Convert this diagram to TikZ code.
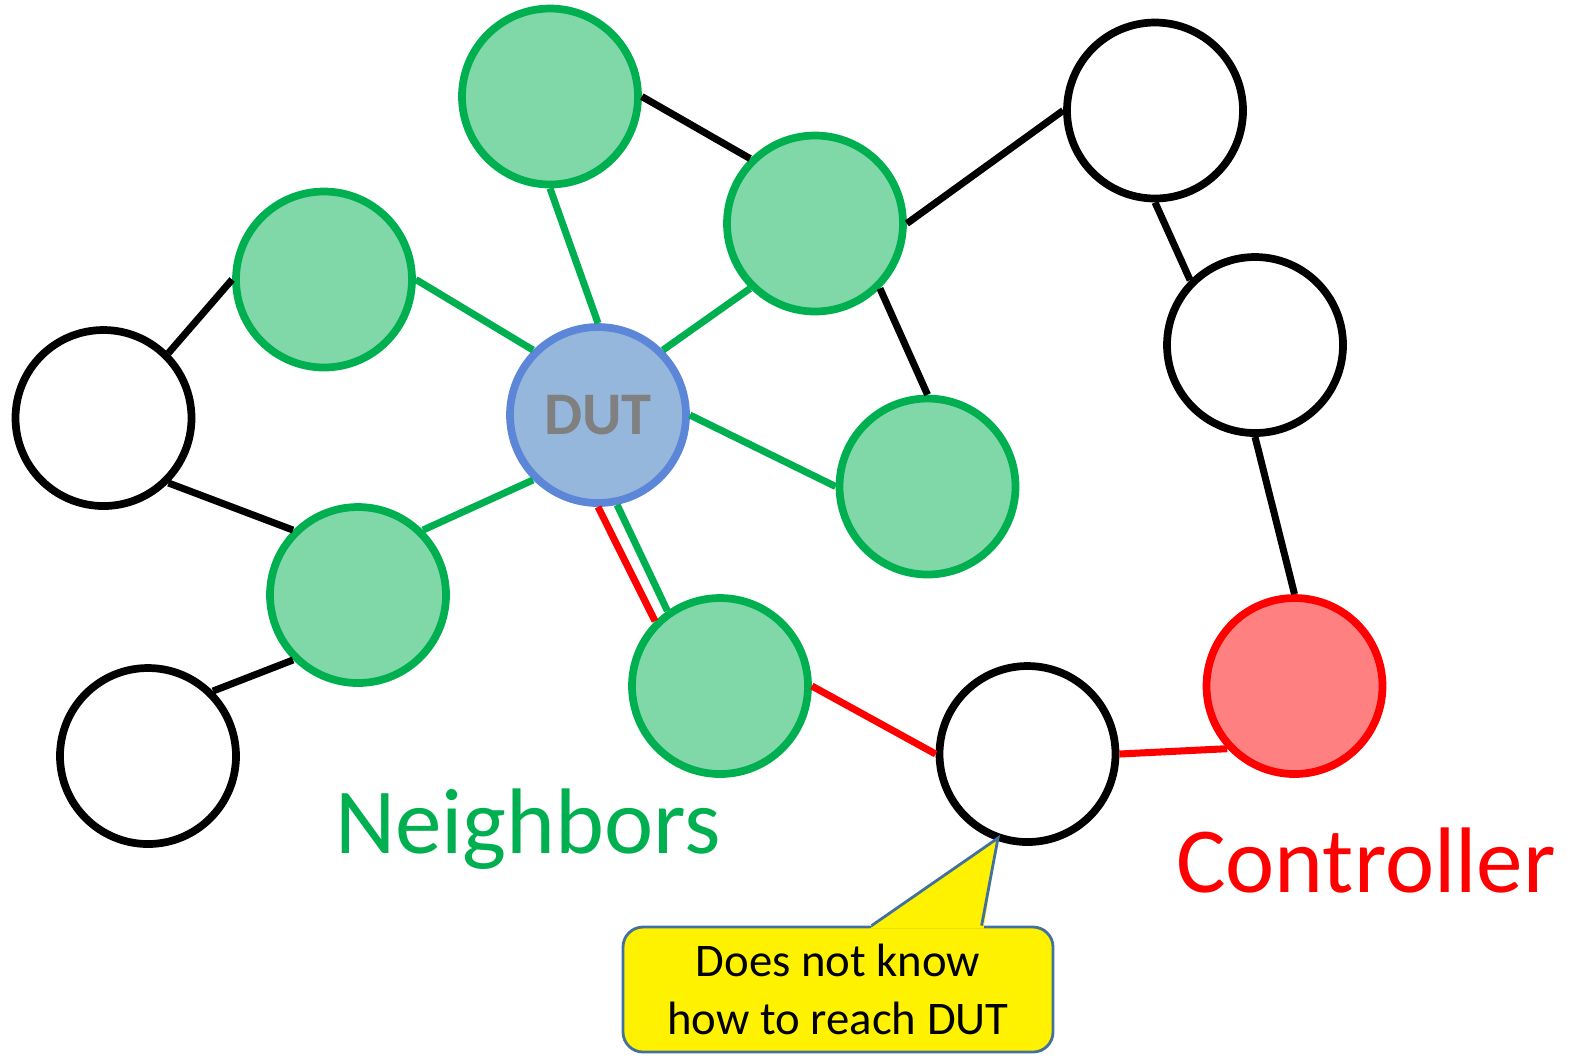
\documentclass[tikz,border=0pt]{standalone}
\usepackage{fontspec}
\setmainfont{Carlito}
\usetikzlibrary{calc}

\definecolor{nbgreen}{RGB}{0,176,80}
\definecolor{nbfill}{RGB}{128,216,168}
\definecolor{dutline}{RGB}{92,134,216}
\definecolor{dutfill}{RGB}{149,183,219}
\definecolor{ctrlfill}{RGB}{255,128,128}
\definecolor{noteline}{RGB}{65,113,156}

\begin{document}
\begin{tikzpicture}[line cap=butt,
  host/.style={circle,line width=2.2pt,minimum size=1.76cm,inner sep=0pt},
  plain/.style={host,draw=black,fill=white},
  neighbor/.style={host,draw=nbgreen,fill=nbfill},
  dut/.style={host,draw=dutline,fill=dutfill,text=black!50,font=\fontsize{17.2}{18}\selectfont\bfseries},
  ctrl/.style={host,draw=red,fill=ctrlfill},
  blk/.style={draw=black,line width=2pt},
  grn/.style={draw=nbgreen,line width=2pt},
  rd/.style={draw=red,line width=2pt},
  bigtext/.style={font=\fontsize{26.5}{30}\selectfont,anchor=base}]
 \useasboundingbox (0,0) rectangle (15.71,-10.55);
 % hosts
 \node[neighbor] (g1) at (5.50,-0.965) {};
 \node[neighbor] (g2) at (8.15,-2.235) {};
 \node[neighbor] (g3) at (3.24,-2.795) {};
 \node[plain] (w1) at (1.035,-4.18) {};
 \node[dut] (dut) at (5.98,-4.15) {DUT};
 \node[neighbor] (g4) at (9.275,-4.865) {};
 \node[neighbor] (g5) at (3.58,-5.95) {};
 \node[plain] (w2) at (1.48,-7.56) {};
 \node[neighbor] (g6) at (7.20,-6.86) {};
 \node[plain] (w3) at (10.275,-7.54) {};
 \node[plain] (w4) at (11.55,-1.105) {};
 \node[plain] (w5) at (12.55,-3.45) {};
 \node[ctrl] (ctrl) at (12.945,-6.86) {};
 % links
 \path[blk]
  (g1.0) edge (g2.135)
  (g2.0) edge (w4.180)
  (g2.-45) edge (g4.90)
  (w4.-90) edge (w5.135)
  (w5.-90) edge (ctrl.90)
  (g3.180) edge (w1.45)
  (w1.-45) edge (g5.135)
  (g5.-135) edge (w2.45);
 \path[grn]
  (g1.-90) edge (dut.90)
  (g2.-135) edge (dut.45)
  (g3.0) edge (dut.135)
  (dut.0) edge (g4.180)
  (dut.-135) edge (g5.45)
  (dut.-78) edge (g6.125);
 \path[rd]
  (dut.-90) edge (g6.135)
  (g6.0) edge (w3.180)
  (w3.0) edge (ctrl.-137);
 % labels
 \node[bigtext,text=nbgreen] (nblabel) at (5.28,-8.53) {Neighbors};
 \node[bigtext,text=red] (ctrllabel) at (13.66,-8.92) {Controller};
 % callout
 \node[draw=noteline,fill=yellow,line width=0.8pt,rounded corners=0.2cm,
  minimum width=4.30cm,minimum height=1.25cm,align=center,
  font=\fontsize{13.3}{16.6}\selectfont] (note) at (8.38,-9.895)
  {Does not know\\how to reach DUT};
 \coordinate (tip) at (9.98,-8.38);
 \fill[yellow] ($(note.north west)+(2.48,-0.03)$) -- (tip) -- ($(note.north west)+(3.62,-0.03)$) -- cycle;
 \draw[noteline,line width=0.8pt,line join=miter] ($(note.north west)+(2.50,0)$) -- (tip) -- ($(note.north west)+(3.60,0)$);
\end{tikzpicture}
\end{document}
